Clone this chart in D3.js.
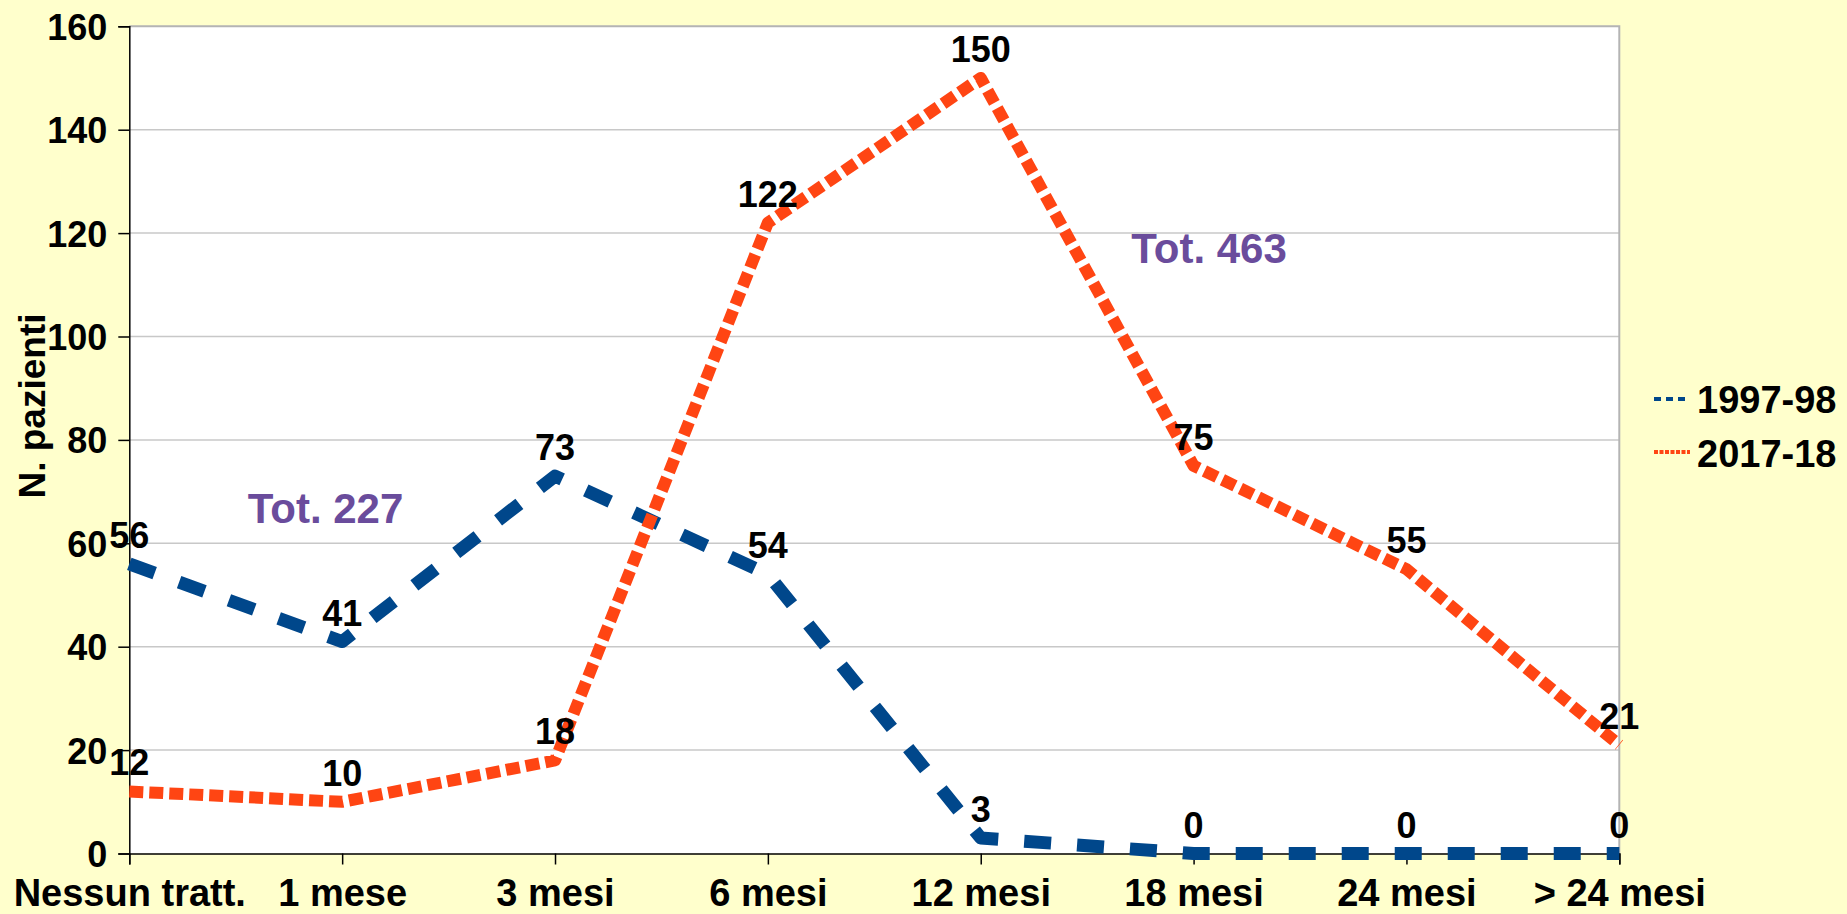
<!DOCTYPE html>
<html>
<head>
<meta charset="utf-8">
<script src="https://cdn.jsdelivr.net/npm/d3@7"></script>
<style>
  html, body { margin: 0; padding: 0; background: #FFFFCC; }
  svg { display: block; }
  text { font-family: "Liberation Sans", Arial, sans-serif; font-weight: bold; }
</style>
</head>
<body>
<svg id="chart" width="1847" height="914"></svg>
<script>
const categories = ["Nessun tratt.", "1 mese", "3 mesi", "6 mesi", "12 mesi", "18 mesi", "24 mesi", "> 24 mesi"];
const series1997 = [56, 41, 73, 54, 3, 0, 0, 0];
const series2017 = [12, 10, 18, 122, 150, 75, 55, 21];
const seriesNames = ["1997-98", "2017-18"];
const yTicks = [0, 20, 40, 60, 80, 100, 120, 140, 160];
const totals = ["Tot. 227", "Tot. 463"];

(function () {
const W = 1847, H = 914;
const pLeft = 129.3, pRight = 1619.3, pTop = 26.3, pBottom = 853.5;

const svg = d3.select("#chart");
svg.append("rect").attr("width", W).attr("height", H).attr("fill", "#FFFFCC");

const x = d3.scalePoint().domain(categories).range([pLeft, pRight]).padding(0);
const y = d3.scaleLinear().domain([0, 160]).range([pBottom, pTop]);

// plot area
svg.append("rect").attr("x", pLeft).attr("y", pTop)
  .attr("width", pRight - pLeft).attr("height", pBottom - pTop)
  .attr("fill", "#ffffff");

// gridlines
svg.append("g").selectAll("line").data(yTicks.filter(t => t > 0 && t < 160)).join("line")
  .attr("x1", pLeft).attr("x2", pRight)
  .attr("y1", d => y(d)).attr("y2", d => y(d))
  .attr("stroke", "#c8c8c8").attr("stroke-width", 1.5);

// border top & right
svg.append("path")
  .attr("d", `M${pLeft},${pTop}H${pRight}V${pBottom}`)
  .attr("fill", "none").attr("stroke", "#b4b4b4").attr("stroke-width", 2);

// y axis
const yAxis = svg.append("g").attr("transform", `translate(${pLeft},0)`)
  .call(d3.axisLeft(y).tickValues(yTicks).tickSize(11).tickPadding(11));
yAxis.select(".domain").attr("stroke", "#000").attr("stroke-width", 1.5);
yAxis.selectAll(".tick line").attr("stroke", "#000").attr("stroke-width", 1.5);
yAxis.selectAll(".tick text").attr("font-size", 36).attr("fill", "#000")
  .attr("font-family", '"Liberation Sans", Arial, sans-serif').attr("font-weight", "bold")
  .attr("dy", "0.36em");

// x axis
const xAxis = svg.append("g").attr("transform", `translate(0,${pBottom})`)
  .call(d3.axisBottom(x).tickSize(11).tickPadding(0));
xAxis.select(".domain").attr("stroke", "#000").attr("stroke-width", 1.5);
xAxis.selectAll(".tick line").attr("stroke", "#000").attr("stroke-width", 1.5);
xAxis.selectAll(".tick text").attr("font-size", 38).attr("fill", "#000")
  .attr("font-family", '"Liberation Sans", Arial, sans-serif').attr("font-weight", "bold")
  .attr("y", 52).attr("dy", 0);

// y axis title
svg.append("text")
  .attr("transform", `translate(45,406) rotate(-90)`)
  .attr("text-anchor", "middle")
  .attr("font-size", 37).attr("fill", "#000")
  .text("N. pazienti");

const line = d3.line().x((d, i) => x(categories[i])).y(d => y(d));

const blue = "#00478B", orange = "#FF4513";

svg.append("path").datum(series1997)
  .attr("d", line).attr("fill", "none")
  .attr("stroke", blue).attr("stroke-width", 13)
  .attr("stroke-dasharray", "27,26").attr("stroke-linejoin", "round");

svg.append("path").datum(series2017)
  .attr("d", line).attr("fill", "none")
  .attr("stroke", orange).attr("stroke-width", 12)
  .attr("stroke-dasharray", "14,6").attr("stroke-linejoin", "round");

// data labels
function labels(data) {
  svg.append("g").selectAll("text").data(data).join("text")
    .attr("x", (d, i) => x(categories[i]))
    .attr("y", d => y(d) - 16)
    .attr("text-anchor", "middle")
    .attr("font-size", 36).attr("fill", "#000")
    .text(d => d);
}
labels(series1997);
labels(series2017);

// totals
svg.append("text").attr("x", 325.5).attr("y", 522.7).attr("text-anchor", "middle")
  .attr("font-size", 42).attr("fill", "#6A4C9C").text(totals[0]);
svg.append("text").attr("x", 1209).attr("y", 263).attr("text-anchor", "middle")
  .attr("font-size", 42).attr("fill", "#6A4C9C").text(totals[1]);

// legend
const legend = svg.append("g");
const legY = [399, 452];
const legBase = [413, 467];
legend.append("line").attr("x1", 1654).attr("x2", 1690).attr("y1", legY[0]).attr("y2", legY[0])
  .attr("stroke", blue).attr("stroke-width", 4).attr("stroke-dasharray", "7,5");
legend.append("line").attr("x1", 1654).attr("x2", 1690).attr("y1", legY[1]).attr("y2", legY[1])
  .attr("stroke", orange).attr("stroke-width", 4).attr("stroke-dasharray", "4,1.5");
legend.selectAll("text").data(seriesNames).join("text")
  .attr("x", 1697).attr("y", (d, i) => legBase[i])
  .attr("font-size", 38).attr("fill", "#000").text(d => d);
})();
</script>
</body>
</html>
